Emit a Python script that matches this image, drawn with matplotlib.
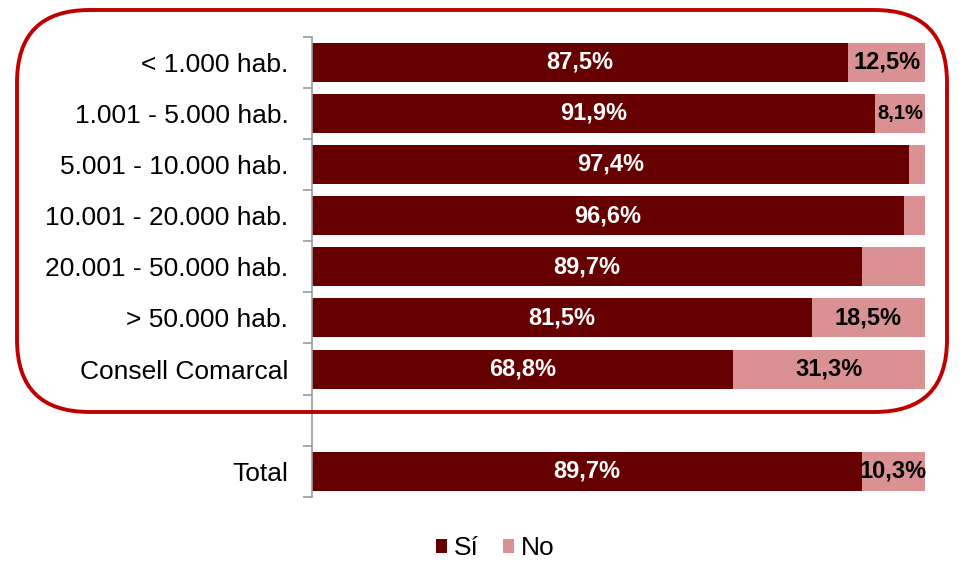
import numpy as np
import matplotlib.pyplot as plt
from matplotlib.patches import FancyBboxPatch

plt.rcParams['font.family'] = ['Liberation Sans', 'DejaVu Sans']

categories = ["< 1.000 hab.", "1.001 - 5.000 hab.", "5.001 - 10.000 hab.",
              "10.001 - 20.000 hab.", "20.001 - 50.000 hab.", "> 50.000 hab.",
              "Consell Comarcal", "", "Total"]
si_vals = [87.5, 91.9, 97.4, 96.6, 89.7, 81.5, 68.8, 0, 89.7]
no_vals = [12.5, 8.1, 2.6, 3.4, 10.3, 18.5, 31.3, 0, 10.3]
si_labels = ["87,5%", "91,9%", "97,4%", "96,6%", "89,7%", "81,5%", "68,8%", "", "89,7%"]
no_labels = ["12,5%", "8,1%", "", "", "", "18,5%", "31,3%", "", "10,3%"]

c_si = "#660000"
c_no = "#D99194"

fig = plt.figure(figsize=(9.67, 5.62), dpi=100)
ax = fig.add_axes([0.3226, 0.1157, 0.634, 0.8193])

y = np.arange(len(categories))
tot = np.array(si_vals) + np.array(no_vals)
tot[tot == 0] = 1
si_pct = np.array(si_vals) / tot * 100
no_pct = np.array(no_vals) / tot * 100

ax.barh(y, si_pct, height=0.76, color=c_si, label="Sí")
ax.barh(y, no_pct, left=si_pct, height=0.76, color=c_no, label="No")

for i in range(len(categories)):
    if si_labels[i]:
        ax.text(si_pct[i] / 2, y[i], si_labels[i], ha="center", va="center",
                color="white", fontsize=17, fontweight="bold")
    if no_labels[i]:
        fs = 14.5 if no_pct[i] < 9 else 17
        ax.text(si_pct[i] + no_pct[i] / 2, y[i], no_labels[i], ha="center",
                va="center", color="black", fontsize=fs, fontweight="bold")

ax.set_xlim(0, 100)
ax.set_ylim(len(categories) - 0.5, -0.5)
ax.set_yticks(y)
ax.set_yticklabels(categories, fontsize=19)
ax.set_yticks(np.arange(-0.5, len(categories)), minor=True)
ax.tick_params(axis="y", which="major", length=0, pad=17)
ax.tick_params(axis="y", which="minor", length=6.5, color="#999999", width=1.2)
ax.set_xticks([])
for s in ["top", "right", "bottom"]:
    ax.spines[s].set_visible(False)
ax.spines["left"].set_color("#999999")
ax.spines["left"].set_linewidth(1.2)

frame = FancyBboxPatch((17 / 967, 1 - 412 / 562), (947 - 17) / 967, (412 - 10) / 562,
                       boxstyle="round,pad=0,rounding_size=0.075",
                       transform=fig.transFigure, fill=False,
                       edgecolor="#C00000", linewidth=2.8,
                       mutation_aspect=967 / 562)
fig.patches.append(frame)

fig.legend(loc="center", bbox_to_anchor=(0.512, 1 - 548 / 562), ncol=2, frameon=False,
           fontsize=19, handlelength=0.45, handleheight=0.45, handletextpad=0.25,
           columnspacing=0.9, borderpad=0)

fig.savefig("out.png", dpi=100)
